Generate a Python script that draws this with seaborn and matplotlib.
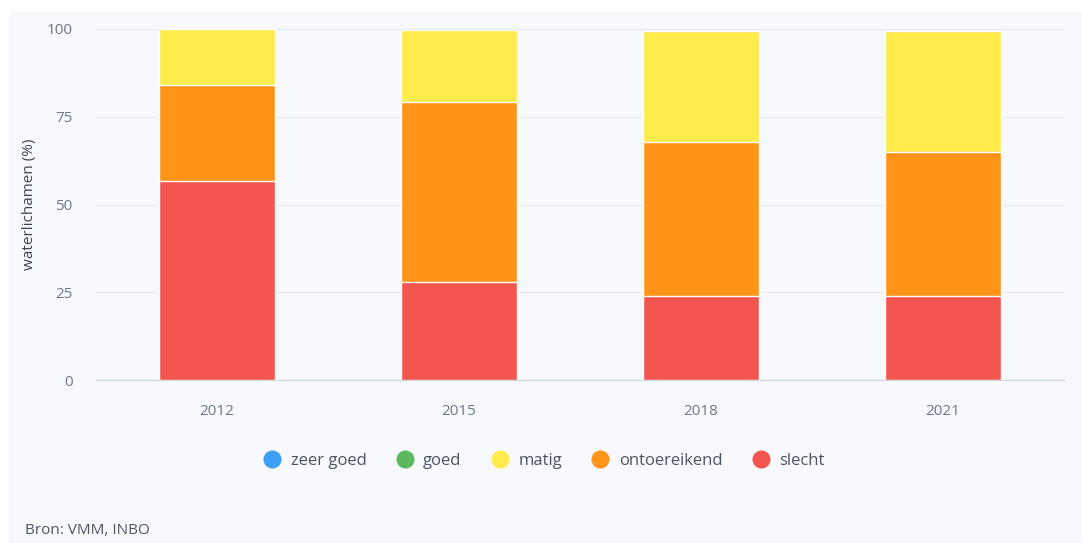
import numpy as np
import pandas as pd
import matplotlib
matplotlib.use("Agg")
import matplotlib.pyplot as plt
from matplotlib.lines import Line2D
from matplotlib.patches import Rectangle
import seaborn as sns

# data (percent of water bodies)
years = ["2012", "2015", "2018", "2021"]
slecht = [56.7, 28.0, 24.0, 24.0]
ontoereikend = [27.3, 51.2, 43.8, 41.0]
matig = [16.0, 20.6, 31.6, 34.4]
goed = [0, 0, 0, 0]
zeer_goed = [0, 0, 0, 0]

classes = ["zeer goed", "goed", "matig", "ontoereikend", "slecht"]
colors = {
    "zeer goed": "#3ca0f5",
    "goed": "#5cb85c",
    "matig": "#ffeb4b",
    "ontoereikend": "#ff9419",
    "slecht": "#f5554f",
}

df = pd.DataFrame({"jaar": years, "slecht": slecht, "ontoereikend": ontoereikend,
                   "matig": matig, "goed": goed, "zeer goed": zeer_goed})

BG = "#f7f9fd"
TXT = "#6b7886"

plt.rcParams["font.family"] = ["Open Sans", "DejaVu Sans"]

fig = plt.figure(figsize=(10.82, 5.43), dpi=100, facecolor="white")
fig.patches.append(Rectangle((9 / 1082, 0), 1, 1 - 12 / 543, transform=fig.transFigure,
                             facecolor=BG, edgecolor="none", zorder=-10))
ax = fig.add_axes([96 / 1082, 1 - 380 / 543, 968 / 1082, 351 / 543])
ax.set_facecolor(BG)

# stacked bars: draw cumulative totals from top down
stack_order = ["slecht", "ontoereikend", "matig", "goed", "zeer goed"]
cum = df[stack_order].cumsum(axis=1)
for name in reversed(stack_order):
    if df[name].sum() == 0:
        continue
    sns.barplot(x=df["jaar"], y=cum[name], color=colors[name], width=0.48,
                saturation=1, edgecolor="white", linewidth=1.0, ax=ax, zorder=3)

ax.set_ylim(0, 100)
ax.set_yticks([0, 25, 50, 75, 100])
ax.grid(axis="y", color="#e6ebf0", linewidth=1, zorder=0)
ax.set_axisbelow(True)
for s in ["top", "right", "left"]:
    ax.spines[s].set_visible(False)
ax.spines["bottom"].set_color("#ccd6e0")
ax.spines["bottom"].set_zorder(4)
ax.tick_params(axis="both", length=0, colors=TXT, labelsize=11)
ax.tick_params(axis="x", pad=17)
ax.tick_params(axis="y", pad=17)
ax.set_xlabel("")
ax.set_ylabel("waterlichamen (%)", color="#3c4650", fontsize=11, labelpad=7)

handles = [Line2D([0], [0], marker="o", linestyle="none", markersize=13,
                  markerfacecolor=colors[c], markeredgecolor="none", label=c)
           for c in classes]
leg = fig.legend(handles=handles, loc="center", bbox_to_anchor=(540 / 1082, 1 - 461 / 543),
                 ncol=5, frameon=False, fontsize=12, handletextpad=0.1, columnspacing=1.3)
for t in leg.get_texts():
    t.set_color("#4a5560")

fig.text(25 / 1082, 1 - 531 / 543, "Bron: VMM, INBO", color="#4a5560", fontsize=11,
         va="center", ha="left")

fig.savefig("out.png", dpi=100, facecolor=fig.get_facecolor())
